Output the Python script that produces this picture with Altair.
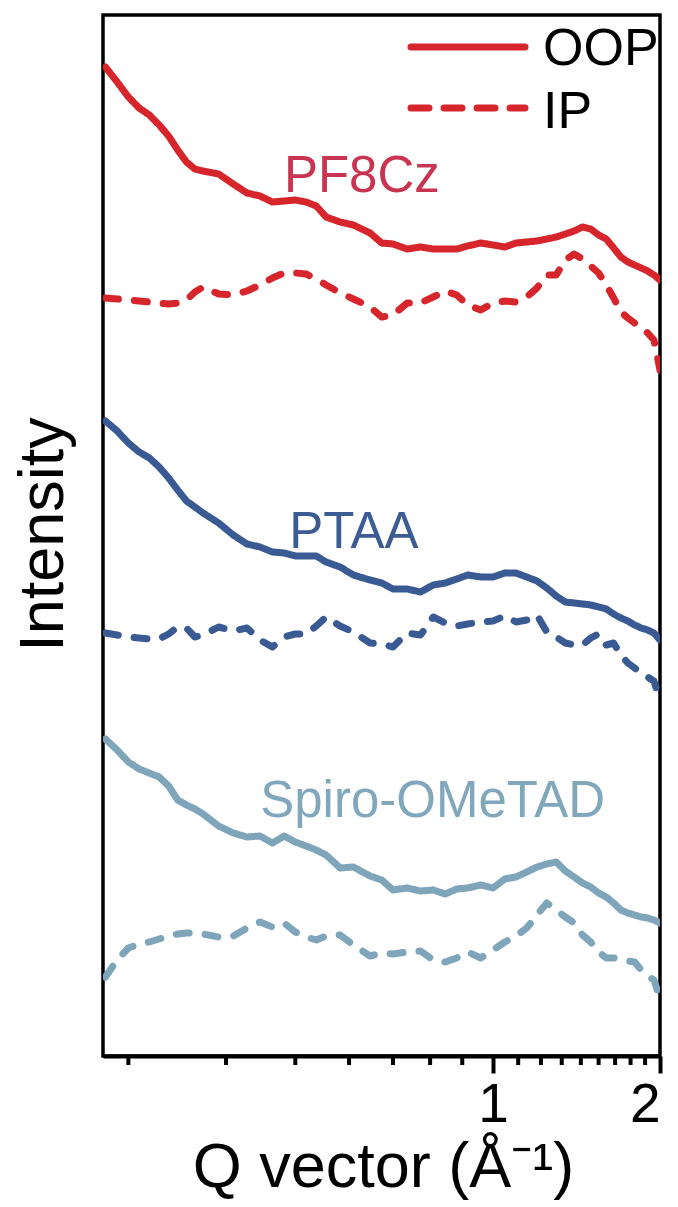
import altair as alt
import pandas as pd

# Shared Q grid (Å^-1)
q = [0.20, 0.21, 0.22, 0.23, 0.24, 0.25, 0.26, 0.27, 0.28, 0.29, 0.30,
     0.32, 0.34, 0.36, 0.38, 0.40, 0.42, 0.44, 0.46, 0.48, 0.50,
     0.53, 0.56, 0.60, 0.63, 0.66, 0.70, 0.74, 0.78, 0.82, 0.86, 0.90, 0.95,
     1.00, 1.05, 1.10, 1.15, 1.20, 1.25, 1.30, 1.35, 1.40, 1.45, 1.50,
     1.55, 1.60, 1.65, 1.70, 1.75, 1.80, 1.85, 1.90, 1.95, 2.00]

pf8cz_oop = [989, 974, 959, 948, 941, 931, 920, 906, 894, 887, 885, 882, 872, 863, 860, 854, 855, 856,
             854, 850, 839, 834, 831, 823, 813, 812, 807, 809, 807, 807, 807, 810, 813, 811, 809, 813,
             814, 815, 817, 819, 822, 825, 829, 827, 821, 817, 808, 799, 794, 791, 788, 785, 781, 776]
pf8cz_ip = [758, 757, 756, 755, 754, 753, 752, 753, 756, 764, 769, 762, 761, 765, 771, 778, 783, 783,
            782, 777, 771, 763, 757, 749, 739, 741, 753, 753, 759, 765, 761, 751, 746, 753, 755, 754,
            759, 768, 781, 781, 796, 802, 797, 790, 783, 771, 758, 744, 738, 733, 729, 723, 716, 686]
ptaa_oop = [635, 625, 613, 604, 598, 589, 578, 566, 555, 549, 543, 533, 521, 512, 509, 504, 503, 500,
            500, 500, 494, 489, 481, 476, 473, 467, 467, 464, 471, 473, 477, 481, 479, 479, 483, 483,
            479, 475, 468, 460, 454, 453, 452, 451, 449, 447, 442, 438, 435, 431, 428, 426, 423, 416]
ptaa_ip = [423, 421, 419, 418, 417, 417, 422, 429, 428, 419, 421, 429, 425, 428, 416, 409, 419, 422,
           422, 430, 439, 430, 424, 413, 412, 409, 423, 421, 439, 433, 430, 432, 434, 435, 440, 434,
           436, 441, 424, 419, 413, 411, 411, 418, 422, 411, 413, 401, 393, 388, 383, 379, 375, 356]
spiro_oop = [317, 306, 294, 287, 283, 279, 270, 256, 251, 247, 242, 230, 223, 219, 220, 213, 220, 214,
             210, 206, 201, 188, 189, 180, 176, 166, 168, 165, 166, 162, 167, 168, 171, 168, 177, 179,
             184, 189, 192, 194, 185, 179, 173, 169, 163, 159, 153, 146, 143, 141, 139, 138, 136, 133]
spiro_ip = [79, 96, 108, 112, 114, 117, 120, 122, 123, 123, 122, 119, 120, 128, 134, 129, 133, 124,
            119, 116, 120, 121, 111, 100, 103, 102, 104, 105, 96, 94, 98, 104, 98, 106, 114, 120,
            128, 141, 153, 146, 139, 133, 121, 114, 104, 98, 98, 97, 95, 94, 86, 80, 76, 58]

materials = ["PF8Cz", "PTAA", "Spiro-OMeTAD"]
orientations = ["OOP", "IP"]
line_colors = ["#d6262c", "#3a5a93", "#7ea5b9"]
label_colors = ["#c93550", "#3c5d94", "#80a7bb"]
label_q = [0.58, 0.561, 0.778]
label_intensity = [864, 508, 239]

major_ticks = [1, 2]
minor_ticks = [0.22, 0.33, 0.44, 0.55, 0.66, 0.77, 0.88,
               1.11, 1.22, 1.33, 1.44, 1.55, 1.66, 1.77, 1.88]

series = [
    ("PF8Cz", "OOP", pf8cz_oop), ("PF8Cz", "IP", pf8cz_ip),
    ("PTAA", "OOP", ptaa_oop), ("PTAA", "IP", ptaa_ip),
    ("Spiro-OMeTAD", "OOP", spiro_oop), ("Spiro-OMeTAD", "IP", spiro_ip),
]
rows = []
for mat, ori, vals in series:
    for qq, v in zip(q, vals):
        rows.append({"q": qq, "intensity": v, "material": mat,
                     "orientation": ori, "series": mat + " " + ori})
df = pd.DataFrame(rows)

W, H = 557, 1041
FONT = "Liberation Sans"
xscale = alt.Scale(type="log", domain=[0.198, 2.0], nice=False)
yscale = alt.Scale(domain=[0, 1041], nice=False, zero=False)

lines = alt.Chart(df).mark_line(
    strokeWidth=7, strokeCap="round", strokeJoin="round", clip=True
).encode(
    x=alt.X("q:Q", scale=xscale, axis=alt.Axis(
        values=major_ticks, format="~g", title="Q vector (Å⁻¹)",
        grid=False, tickSize=17, tickWidth=4, tickColor="black",
        domainColor="black", domainWidth=4,
        labelFontSize=55, labelPadding=5, labelColor="black", labelFont=FONT,
        titleFontSize=63, titleFont=FONT, titleFontWeight="normal", titleColor="black",
        titleX=280, titleY=130, titleBaseline="alphabetic", titleAlign="center")),
    y=alt.Y("intensity:Q", scale=yscale, axis=alt.Axis(
        title="Intensity", labels=False, ticks=False, domain=False, grid=False,
        titleFontSize=63, titleFont=FONT, titleFontWeight="normal", titleColor="black",
        titleAngle=270, titleX=-41, titleY=519, titleAlign="center",
        titleBaseline="alphabetic")),
    color=alt.Color("material:N", scale=alt.Scale(domain=materials, range=line_colors), legend=None),
    strokeDash=alt.StrokeDash("orientation:N",
                              scale=alt.Scale(domain=orientations, range=[[1, 0], [13, 16]]),
                              legend=None),
    detail="series:N",
)

minor = alt.Chart(pd.DataFrame({"q": minor_ticks})).mark_rule(
    strokeWidth=4, color="black"
).encode(
    x=alt.X("q:Q", scale=xscale),
    y=alt.value(H), y2=alt.value(H + 9),
)

labels_df = pd.DataFrame({"q": label_q, "intensity": label_intensity,
                          "text": materials, "color": label_colors})
labels = alt.Chart(labels_df).mark_text(
    fontSize=51, font=FONT, align="center", baseline="alphabetic"
).encode(
    x=alt.X("q:Q", scale=xscale),
    y=alt.Y("intensity:Q", scale=yscale),
    text="text:N",
    color=alt.Color("color:N", scale=None),
)

red = line_colors[0]
leg_solid = alt.Chart(pd.DataFrame({"t": ["OOP"]})).mark_rule(
    strokeWidth=7, strokeCap="round", color=red
).encode(x=alt.value(308), x2=alt.value(422), y=alt.value(32))
leg_dash = alt.Chart(pd.DataFrame({"t": ["IP"]})).mark_rule(
    strokeWidth=7, strokeCap="round", color=red, strokeDash=[18, 15]
).encode(x=alt.value(308), x2=alt.value(422), y=alt.value(93))
leg_text1 = alt.Chart(pd.DataFrame({"t": ["OOP"]})).mark_text(
    fontSize=52, font=FONT, align="left", baseline="alphabetic", color="black"
).encode(x=alt.value(440), y=alt.value(50), text="t:N")
leg_text2 = alt.Chart(pd.DataFrame({"t": ["IP"]})).mark_text(
    fontSize=52, font=FONT, align="left", baseline="alphabetic", color="black"
).encode(x=alt.value(440), y=alt.value(113), text="t:N")

chart = alt.layer(
    lines, minor, labels, leg_solid, leg_dash, leg_text1, leg_text2
).properties(
    width=W, height=H,
    autosize=alt.AutoSizeParams(type="none"),
    padding={"left": 103, "top": 15, "right": 18, "bottom": 151},
).configure(
    font=FONT, background="white"
).configure_view(
    stroke="black", strokeWidth=3.5
)

chart.save("out.html", embed_options={"renderer": "svg", "actions": False})
